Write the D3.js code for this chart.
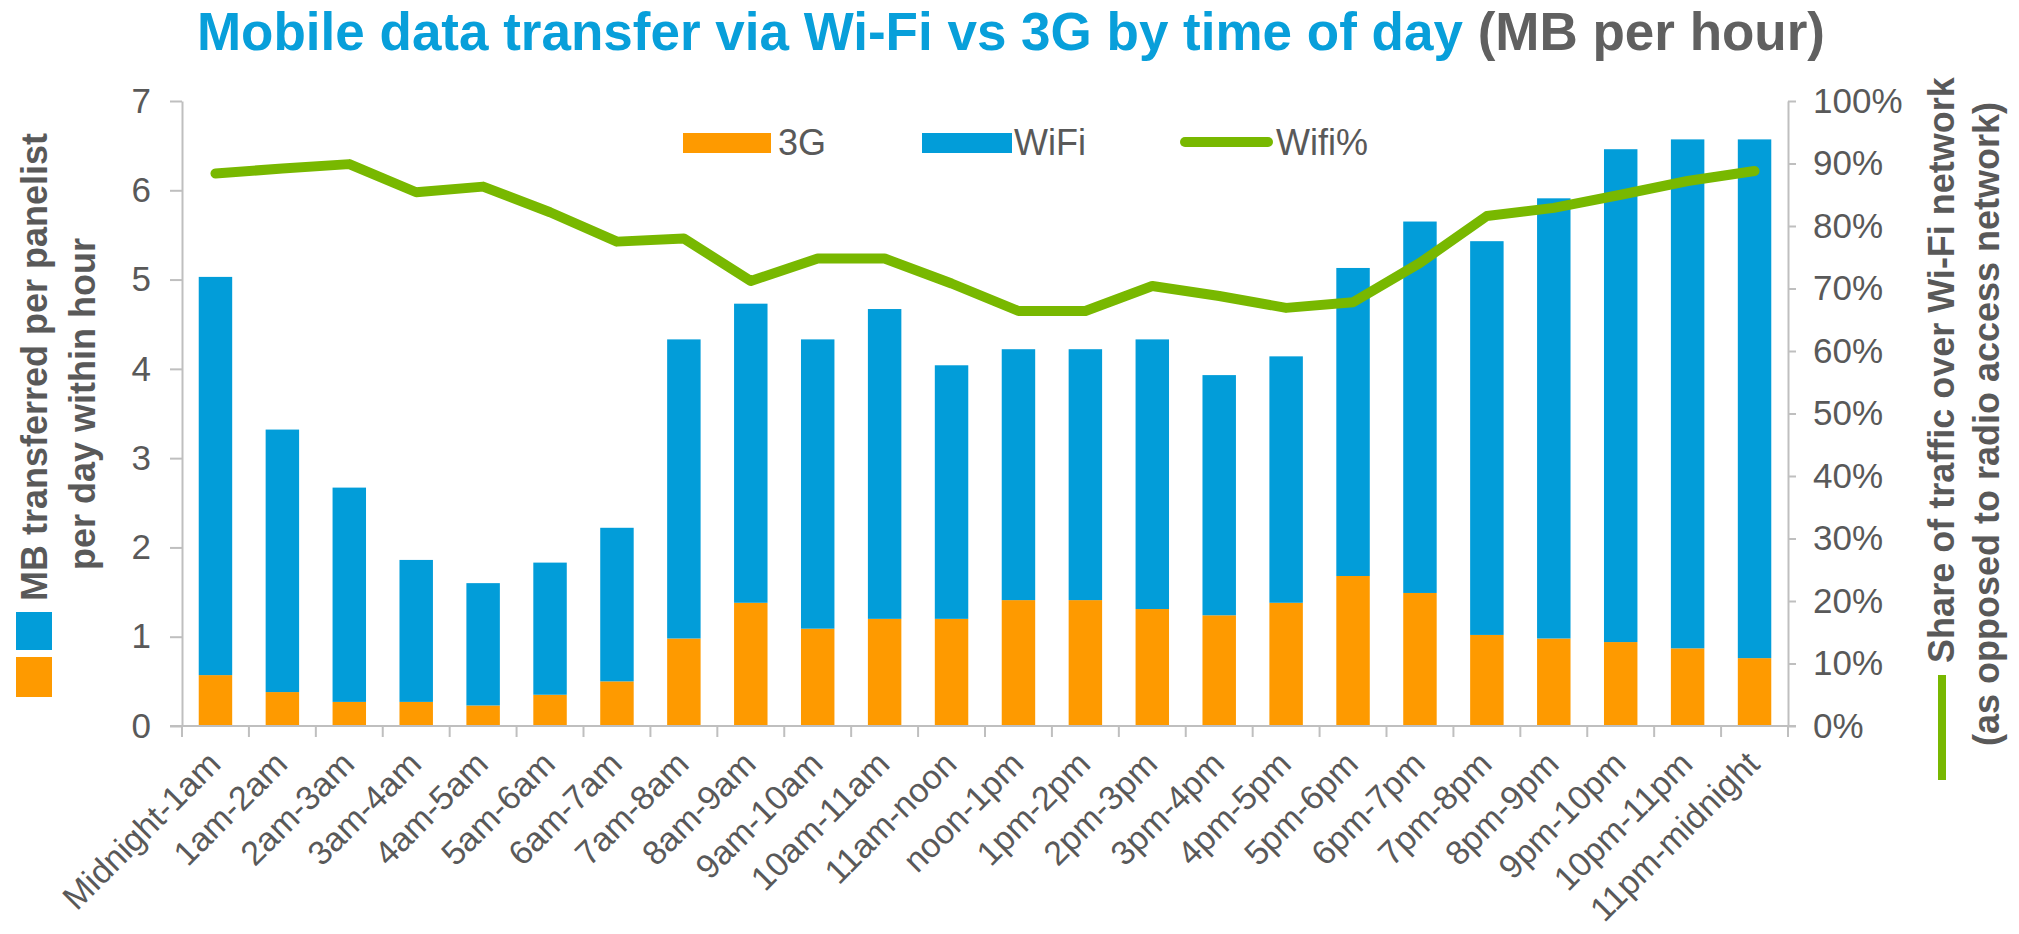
<!DOCTYPE html>
<html>
<head>
<meta charset="utf-8">
<script src="https://cdn.jsdelivr.net/npm/d3@7"></script>
<style>
  html, body { margin: 0; padding: 0; background: #ffffff; }
  svg { display: block; font-family: "Liberation Sans", Arial, sans-serif; }
</style>
</head>
<body>
<svg id="chart" width="2019" height="934"></svg>
<script>
// Hour-of-day buckets
const categories = [
  "Midnight-1am", "1am-2am", "2am-3am", "3am-4am", "4am-5am", "5am-6am",
  "6am-7am", "7am-8am", "8am-9am", "9am-10am", "10am-11am", "11am-noon",
  "noon-1pm", "1pm-2pm", "2pm-3pm", "3pm-4pm", "4pm-5pm", "5pm-6pm",
  "6pm-7pm", "7pm-8pm", "8pm-9pm", "9pm-10pm", "10pm-11pm", "11pm-midnight"
];

// MB per panelist per hour over the radio access network (3G)
const mb3G = [0.57, 0.38, 0.27, 0.27, 0.23, 0.35, 0.50, 0.98, 1.38, 1.09, 1.20, 1.20,
              1.41, 1.41, 1.31, 1.24, 1.38, 1.68, 1.49, 1.02, 0.98, 0.94, 0.87, 0.76];

// MB per panelist per hour over Wi-Fi
const mbWiFi = [4.46, 2.94, 2.40, 1.59, 1.37, 1.48, 1.72, 3.35, 3.35, 3.24, 3.47, 2.84,
                2.81, 2.81, 3.02, 2.69, 2.76, 3.45, 4.16, 4.41, 4.93, 5.52, 5.70, 5.81];

// Share of traffic carried over Wi-Fi (%)
const wifiShare = [88.4, 89.2, 89.9, 85.4, 86.3, 82.2, 77.5, 78.0, 71.2, 74.8, 74.8, 70.8,
                   66.4, 66.4, 70.4, 68.8, 66.9, 67.8, 74.1, 81.6, 82.9, 85.0, 87.2, 88.8];

const mbTicks = [0, 1, 2, 3, 4, 5, 6, 7];
const pctTicks = [0, 10, 20, 30, 40, 50, 60, 70, 80, 90, 100];
const seriesNames = ["3G", "WiFi", "Wifi%"];

const COLORS = { g3: "#FE9A00", wifi: "#029DD9", share: "#78B800" };
const AXIS = "#BFBFBF";
const TEXT = "#595959";

const svg = d3.select("#chart");
svg.append("rect").attr("width", 2019).attr("height", 934).attr("fill", "#fff");

// Scales
const x = d3.scaleBand().domain(categories).range([182, 1788]).paddingInner(0.5).paddingOuter(0.25);
const y = d3.scaleLinear().domain([0, 7]).range([726, 101]);
const yPct = d3.scaleLinear().domain([0, 100]).range([726, 101]);

// Stacked bars
const rows = categories.map((c, i) => ({ cat: c, g3: mb3G[i], wifi: mbWiFi[i] }));
const stacked = d3.stack().keys(["g3", "wifi"])(rows);

svg.append("g").selectAll("g")
  .data(stacked)
  .join("g")
  .attr("fill", d => COLORS[d.key])
  .selectAll("rect")
  .data(d => d)
  .join("rect")
  .attr("x", d => x(d.data.cat))
  .attr("width", x.bandwidth())
  .attr("y", d => y(d[1]))
  .attr("height", d => y(d[0]) - y(d[1]));

// Left axis
const leftAxis = svg.append("g")
  .attr("transform", "translate(182,0)")
  .call(d3.axisLeft(y).tickValues(mbTicks).tickSize(12).tickSizeOuter(0).tickPadding(19).tickFormat(d3.format("d")));

// Right axis
const rightAxis = svg.append("g")
  .attr("transform", "translate(1788,0)")
  .call(d3.axisRight(yPct).tickValues(pctTicks).tickSize(8).tickSizeOuter(0).tickPadding(17).tickFormat(d => d + "%"));

[leftAxis, rightAxis].forEach(g => {
  g.select(".domain").attr("stroke", AXIS).attr("stroke-width", 2);
  g.selectAll(".tick line").attr("stroke", AXIS).attr("stroke-width", 2);
  g.selectAll(".tick text").attr("fill", TEXT).attr("font-size", 35).attr("font-family", null);
});

// Category axis: baseline plus ticks on band boundaries
const xAxis = svg.append("g");
const x0 = x.range()[0];
xAxis.append("line")
  .attr("x1", 170).attr("x2", 1796)
  .attr("y1", y(0)).attr("y2", y(0))
  .attr("stroke", AXIS).attr("stroke-width", 2);
xAxis.selectAll("line.cat")
  .data(d3.range(categories.length + 1))
  .join("line")
  .attr("class", "cat")
  .attr("x1", i => x0 + i * x.step())
  .attr("x2", i => x0 + i * x.step())
  .attr("y1", y(0)).attr("y2", y(0) + 11)
  .attr("stroke", AXIS).attr("stroke-width", 2);
xAxis.selectAll("text")
  .data(categories)
  .join("text")
  .attr("transform", c => `translate(${x(c) + x.bandwidth() / 2 + 7},${y(0) + 40}) rotate(-45)`)
  .attr("text-anchor", "end")
  .attr("font-size", 34)
  .attr("fill", TEXT)
  .text(c => c);

// Wi-Fi share line
const line = d3.line()
  .x((d, i) => x(categories[i]) + x.bandwidth() / 2)
  .y(d => yPct(d));
svg.append("path")
  .datum(wifiShare)
  .attr("d", line)
  .attr("fill", "none")
  .attr("stroke", COLORS.share)
  .attr("stroke-width", 10)
  .attr("stroke-linejoin", "round")
  .attr("stroke-linecap", "round");

// Title
const title = svg.append("text")
  .attr("x", 1011).attr("y", 50)
  .attr("text-anchor", "middle")
  .attr("font-size", 53).attr("font-weight", "bold");
title.append("tspan").attr("fill", "#089FDA").text("Mobile data transfer via Wi-Fi vs 3G by time of day ");
title.append("tspan").attr("fill", "#606060").text("(MB per hour)");

// Top legend
const legend = svg.append("g");
legend.append("rect").attr("x", 683).attr("y", 133).attr("width", 88).attr("height", 20).attr("fill", COLORS.g3);
legend.append("text").attr("x", 778).attr("y", 155).attr("font-size", 36).attr("fill", TEXT).text(seriesNames[0]);
legend.append("rect").attr("x", 922).attr("y", 133).attr("width", 90).attr("height", 20).attr("fill", COLORS.wifi);
legend.append("text").attr("x", 1014).attr("y", 155).attr("font-size", 36).attr("fill", TEXT).text(seriesNames[1]);
legend.append("line").attr("x1", 1185).attr("x2", 1268).attr("y1", 142).attr("y2", 142)
  .attr("stroke", COLORS.share).attr("stroke-width", 10).attr("stroke-linecap", "round");
legend.append("text").attr("x", 1276).attr("y", 155).attr("font-size", 36).attr("fill", TEXT).text(seriesNames[2]);

// Left axis title with series swatches
svg.append("rect").attr("x", 16).attr("y", 612).attr("width", 36).attr("height", 38).attr("fill", COLORS.wifi);
svg.append("rect").attr("x", 16).attr("y", 657).attr("width", 36).attr("height", 40).attr("fill", COLORS.g3);
svg.append("text")
  .attr("transform", "translate(47,367) rotate(-90)")
  .attr("text-anchor", "middle").attr("font-size", 36).attr("font-weight", "bold").attr("fill", TEXT)
  .text("MB transferred per panelist");
svg.append("text")
  .attr("transform", "translate(95,404) rotate(-90)")
  .attr("text-anchor", "middle").attr("font-size", 36).attr("font-weight", "bold").attr("fill", TEXT)
  .text("per day within hour");

// Right axis title with line swatch
svg.append("text")
  .attr("transform", "translate(1954,370) rotate(-90)")
  .attr("text-anchor", "middle").attr("font-size", 36).attr("font-weight", "bold").attr("fill", TEXT)
  .text("Share of traffic over Wi-Fi network");
svg.append("text")
  .attr("transform", "translate(1999,424) rotate(-90)")
  .attr("text-anchor", "middle").attr("font-size", 36).attr("font-weight", "bold").attr("fill", TEXT)
  .text("(as opposed to radio access network)");
svg.append("line")
  .attr("x1", 1942).attr("x2", 1942).attr("y1", 675).attr("y2", 780)
  .attr("stroke", COLORS.share).attr("stroke-width", 8);
</script>
</body>
</html>
